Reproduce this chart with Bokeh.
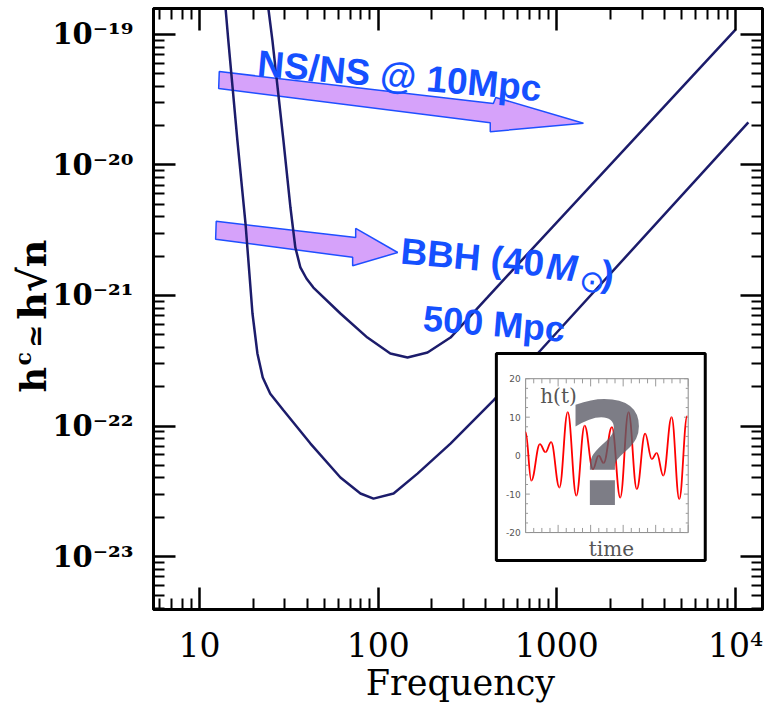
import math
from bokeh.plotting import figure
from bokeh.models import Range1d, FixedTicker, LogAxis, Label
from bokeh.embed import file_html
from bokeh.resources import INLINE

# ---------------- data ----------------
# NS/NS @ 10 Mpc sensitivity curve (upper)
ns_freq = [24.3, 25.6, 29.5, 32.3, 34.4, 35.3, 36.7, 39.7, 43.4, 61.5, 87.1, 117, 146, 189, 254, 409, 483, 10000]
ns_strain = [1.58e-19, 9.0e-20, 1.54e-20, 4.72e-21, 2.33e-21, 2.03e-21, 1.64e-21, 1.35e-21, 1.15e-21,
             7.28e-22, 4.76e-22, 3.60e-22, 3.35e-22, 3.66e-22, 4.76e-22, 9.66e-22, 1.24e-21, 1.09e-19]

# BBH (40 Msun) @ 500 Mpc sensitivity curve (lower)
bbh_freq = [14.0, 14.5, 16.3, 18.1, 19.8, 21.1, 22.6, 24.9, 29.5, 41.8, 61.5, 79.6, 94.2, 122, 166, 254, 442, 809, 11800]
bbh_strain = [1.58e-19, 9.0e-20, 1.54e-20, 3.56e-21, 7.28e-22, 3.60e-22, 2.35e-22, 1.77e-22, 1.32e-22,
              7.34e-23, 4.03e-23, 3.04e-23, 2.78e-23, 3.04e-23, 4.32e-23, 7.34e-23, 1.57e-22, 3.79e-22, 2.12e-20]

x_tick_values = [10, 100, 1000, 10000]
x_tick_labels = ["10", "100", "1000", "10⁴"]
y_tick_values = [1e-23, 1e-22, 1e-21, 1e-20, 1e-19]
y_tick_labels = ["10⁻²³", "10⁻²²", "10⁻²¹", "10⁻²⁰", "10⁻¹⁹"]

# inset waveform h(t): extrema of the red trace (time in % of window)
red_t = [0, 3.5, 8.8, 12.2, 15.7, 20.8, 25.9, 31.2, 36.3, 41.4, 44.9, 48.0, 53.1, 58.2, 63.3,
         68.4, 73.5, 77.6, 80.6, 84.7, 89.8, 94.5, 99.4]
red_h = [6.1, -6.5, 3.0, 0.9, 3.5, -8.3, 11.3, -10.4, 7.8, -3.5, 0.0, -1.9, 7.4, -10.9, 11.3,
         -8.7, 5.7, -0.9, 0.7, -5.2, 10.0, -11.3, 10.3]
inset_h_ticks = [20, 10, 0, -10, -20]
inset_h_labels = ["20", "10", "0", "-10", "-20"]

# ---------------- layout helpers ----------------
W, H = 765, 703
FL, FR, FT, FB = 153, 762, 8, 609          # plot box inside the canvas (pixels)
X_LO, X_HI = 5.53, 1.416e4
Y_LO, Y_HI = 3.93e-24, 1.58e-19
lx0, lx1 = math.log10(X_LO), math.log10(X_HI)
ly0, ly1 = math.log10(Y_LO), math.log10(Y_HI)
dx = (lx1 - lx0) / (FR - FL)
dy = (ly1 - ly0) / (FB - FT)
CX_LO, CX_HI = 10 ** (lx0 - FL * dx), 10 ** (lx1 + (W - FR) * dx)
CY_LO, CY_HI = 10 ** (ly0 - (H - FB) * dy), 10 ** (ly1 + FT * dy)


def at(fx, fy):
    """fraction of the plot box -> data coordinates"""
    return 10 ** (lx0 + fx * (lx1 - lx0)), 10 ** (ly0 + fy * (ly1 - ly0))


IN_FX0, IN_FX1, IN_FY0, IN_FY1 = 0.611, 0.878, 0.128, 0.384


def inset_xy(t, h):
    fx = IN_FX0 + t / 100.0 * (IN_FX1 - IN_FX0)
    fy = IN_FY0 + (h + 20) / 40.0 * (IN_FY1 - IN_FY0)
    return at(fx, fy)


p = figure(width=W, height=H, x_axis_type="log", y_axis_type="log",
           x_axis_location=None, y_axis_location=None,
           x_range=Range1d(CX_LO, CX_HI), y_range=Range1d(CY_LO, CY_HI),
           output_backend="svg", toolbar_location=None,
           min_border_left=0, min_border_right=0, min_border_top=0, min_border_bottom=0)
p.xgrid.visible = False
p.ygrid.visible = False
p.outline_line_color = None
p.background_fill_color = "white"
p.border_fill_color = "white"

x_minor = [k * 10 ** e for e in range(0, 5) for k in range(2, 10) if X_LO <= k * 10 ** e <= X_HI]
y_minor = [k * 10.0 ** e for e in range(-24, -18) for k in range(2, 10) if Y_LO <= k * 10.0 ** e <= Y_HI]
xt = FixedTicker(ticks=x_tick_values, minor_ticks=x_minor)
yt = FixedTicker(ticks=y_tick_values, minor_ticks=y_minor)


def make_axis(ticker, bounds, loc):
    ax = LogAxis(ticker=ticker, bounds=bounds, fixed_location=loc)
    ax.axis_line_width = 3
    ax.axis_line_color = "black"
    ax.major_tick_in = 22
    ax.major_tick_out = 0
    ax.minor_tick_in = 11
    ax.minor_tick_out = 0
    ax.major_tick_line_width = 2.5
    ax.minor_tick_line_width = 2
    ax.major_tick_line_color = "black"
    ax.minor_tick_line_color = "black"
    return ax


# frame box
p.quad(left=[X_LO], right=[X_HI], bottom=[Y_LO], top=[Y_HI], fill_color=None,
       line_color="black", line_width=3)

bx = make_axis(xt, (X_LO, X_HI), Y_LO)
bx.major_label_overrides = dict(zip(x_tick_values, x_tick_labels))
bx.major_label_text_font = "DejaVu Serif"
bx.major_label_text_font_size = "33px"
bx.major_label_text_color = "black"
bx.major_label_standoff = 16
p.add_layout(bx, "below")

ly = make_axis(yt, (Y_LO, Y_HI), X_LO)
ly.major_label_overrides = dict(zip(y_tick_values, y_tick_labels))
ly.major_label_text_font = "DejaVu Serif"
ly.major_label_text_font_style = "bold"
ly.major_label_text_font_size = "29px"
ly.major_label_text_color = "black"
ly.major_label_standoff = 20
p.add_layout(ly, "left")

top_ax = make_axis(xt, (X_LO, X_HI), Y_HI)
top_ax.major_label_text_font_size = "0px"
top_ax.major_label_standoff = 0
top_ax.major_label_overrides = {v: "" for v in x_tick_values}
p.add_layout(top_ax, "above")

right_ax = make_axis(yt, (Y_LO, Y_HI), X_HI)
right_ax.major_label_text_font_size = "0px"
right_ax.major_label_standoff = 0
right_ax.major_label_overrides = {v: "" for v in y_tick_values}
p.add_layout(right_ax, "right")

# ---------------- arrows ----------------
ARROW_FILL = "#d6a2fa"
ARROW_LINE = "#1f4fff"
up_arrow = [(0.108, 0.895), (0.558, 0.842), (0.562, 0.852), (0.706, 0.809),
            (0.553, 0.795), (0.553, 0.810), (0.107, 0.867)]
lo_arrow = [(0.103, 0.646), (0.332, 0.619), (0.332, 0.634), (0.401, 0.594),
            (0.327, 0.572), (0.327, 0.586), (0.102, 0.616)]
for arr in (up_arrow, lo_arrow):
    pts = [at(fx, fy) for fx, fy in arr]
    p.patch([q[0] for q in pts], [q[1] for q in pts], fill_color=ARROW_FILL,
            line_color=ARROW_LINE, line_width=1.5)

# ---------------- curves ----------------
CURVE = "#1c1c6b"
p.line(ns_freq, ns_strain, line_color=CURVE, line_width=2.5)
p.line(bbh_freq, bbh_strain, line_color=CURVE, line_width=2.5)

# ---------------- inset ----------------
ox0, oy0 = at(0.563, 0.0815)
ox1, oy1 = at(0.906, 0.426)
p.quad(left=[ox0], right=[ox1], bottom=[oy0], top=[oy1], fill_color="white",
       line_color="black", line_width=3)
ix0, iy0 = inset_xy(0, -20)
ix1, iy1 = inset_xy(100, 20)
p.quad(left=[ix0], right=[ix1], bottom=[iy0], top=[iy1], fill_color=None,
       line_color="#8a8a8a", line_width=1)

# inset ticks
tx0, ty0, tx1, ty1 = [], [], [], []
for k in range(17):
    h = -20 + 2.5 * k
    ln = 2.6 if k % 4 == 0 else 1.5
    a = inset_xy(0, h); b = inset_xy(ln, h)
    tx0.append(a[0]); ty0.append(a[1]); tx1.append(b[0]); ty1.append(b[1])
    a = inset_xy(100, h); b = inset_xy(100 - ln, h)
    tx0.append(a[0]); ty0.append(a[1]); tx1.append(b[0]); ty1.append(b[1])
for k in range(21):
    t = 5 * k
    ln = 2.0 if k % 4 == 0 else 1.2
    a = inset_xy(t, -20); b = inset_xy(t, -20 + ln)
    tx0.append(a[0]); ty0.append(a[1]); tx1.append(b[0]); ty1.append(b[1])
    a = inset_xy(t, 20); b = inset_xy(t, 20 - ln)
    tx0.append(a[0]); ty0.append(a[1]); tx1.append(b[0]); ty1.append(b[1])
p.segment(tx0, ty0, tx1, ty1, line_color="#9a9a9a", line_width=1)

# red waveform as smooth bezier segments between extrema
bz = {k: [] for k in ("x0", "y0", "x1", "y1", "cx0", "cy0", "cx1", "cy1")}
for i in range(len(red_t) - 1):
    t0, h0, t1, h1 = red_t[i], red_h[i], red_t[i + 1], red_h[i + 1]
    dt = t1 - t0
    for key, (t, h) in zip((("x0", "y0"), ("x1", "y1"), ("cx0", "cy0"), ("cx1", "cy1")),
                           ((t0, h0), (t1, h1), (t0 + 0.4 * dt, h0), (t1 - 0.4 * dt, h1))):
        X, Y = inset_xy(t, h)
        bz[key[0]].append(X)
        bz[key[1]].append(Y)
p.bezier(line_color="red", line_width=1.8, **bz)

for hv, lab in zip(inset_h_ticks, inset_h_labels):
    X, Y = inset_xy(-3.0, hv)
    p.add_layout(Label(x=X, y=Y, text=lab, text_font="DejaVu Sans", text_font_size="9px",
                       text_color="#555555", text_align="right", text_baseline="middle"))
X, Y = inset_xy(9.0, 15.4)
p.add_layout(Label(x=X, y=Y, text="h(t)", text_font="DejaVu Serif", text_font_size="20px",
                   text_color="#555555", text_align="left", text_baseline="middle"))
X, Y = inset_xy(52.8, -24.2)
p.add_layout(Label(x=X, y=Y, text="time", text_font="DejaVu Serif", text_font_size="20px",
                   text_color="#555555", text_align="center", text_baseline="middle"))
X, Y = inset_xy(50.0, 0.0)
p.add_layout(Label(x=X, y=Y, text="?", text_font="DejaVu Sans", text_font_style="bold",
                   text_font_size="142px", text_color="#5c5c68", text_alpha=0.8,
                   text_align="center", text_baseline="middle"))

# ---------------- blue annotations ----------------
BLUE = "#1550ff"


def blue_label(fx, fy, text, size, angle, style="bold", font="Liberation Sans"):
    X, Y = at(fx, fy)
    p.add_layout(Label(x=X, y=Y, text=text, text_font=font, text_font_style=style,
                       text_font_size=size, text_color=BLUE, angle=angle,
                       text_align="left", text_baseline="middle"))


blue_label(0.171, 0.909, "NS/NS @ 10Mpc", "37px", -0.09)
blue_label(0.406, 0.5965, "BBH (40", "37px", -0.09)
blue_label(0.645, 0.5715, "M", "37px", -0.09, style="bold italic")
blue_label(0.699, 0.548, "⊙", "31px", -0.09, style="normal", font="DejaVu Sans")
blue_label(0.736, 0.559, ")", "37px", -0.09)
blue_label(0.443, 0.485, "500 Mpc", "36px", -0.08)

# ---------------- axis titles ----------------
X, Y = at(0.504, -0.1223)
p.add_layout(Label(x=X, y=Y, text="Frequency", text_font="DejaVu Serif", text_font_size="35px",
                   text_color="black", text_align="center", text_baseline="middle"))
for fx, fy, txt, size in ((-0.197, 0.361, "h", "35px"), (-0.214, 0.406, "c", "22px"),
                          (-0.193, 0.435, "≃", "28px"), (-0.199, 0.482, "h√n", "38px")):
    X, Y = at(fx, fy)
    p.add_layout(Label(x=X, y=Y, text=txt, text_font="DejaVu Serif", text_font_style="bold",
                       text_font_size=size, text_color="black", angle=math.pi / 2,
                       text_align="left", text_baseline="middle"))

open("out.html", "w", encoding="utf-8").write(file_html(p, INLINE))
